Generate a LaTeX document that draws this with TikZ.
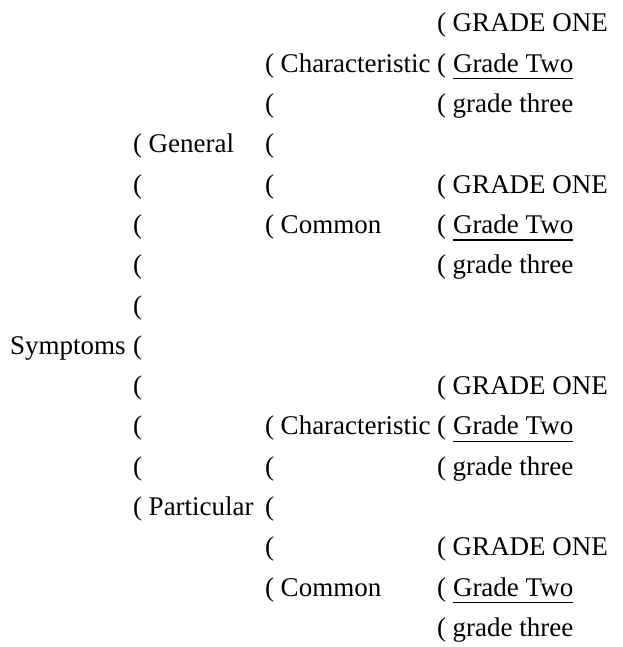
\documentclass[tikz,border=0pt]{standalone}
\usepackage{fontspec}
\setmainfont{Liberation Serif}
\begin{document}
\begin{tikzpicture}[x=1pt, y=1pt,
  lbl/.style={anchor=base west, inner sep=0pt, outer sep=0pt,
              font=\fontsize{27}{32}\selectfont},
  uline/.style={line width=1.2pt}]
\useasboundingbox (0,0) rectangle (622,647);

% column positions of the opening brackets
\def\pa{133}\def\pb{265}\def\pc{437}\def\tc{453}

% row 1
\node[lbl] (r1c) at (\pc,615) {( GRADE ONE};
% row 2
\node[lbl] (r2b) at (\pb,574.7) {( Characteristic};
\node[lbl] (r2c) at (\pc,574.7) {(};
\node[lbl] (r2t) at (\tc,574.7) {Grade Two};
% row 3
\node[lbl] (r3b) at (\pb,534.4) {(};
\node[lbl] (r3c) at (\pc,534.4) {( grade three};
% row 4
\node[lbl] (r4a) at (\pa,494.1) {( General};
\node[lbl] (r4b) at (\pb,494.1) {(};
% row 5
\node[lbl] (r5a) at (\pa,453.8) {(};
\node[lbl] (r5b) at (\pb,453.8) {(};
\node[lbl] (r5c) at (\pc,453.8) {( GRADE ONE};
% row 6
\node[lbl] (r6a) at (\pa,413.5) {(};
\node[lbl] (r6b) at (\pb,413.5) {( Common};
\node[lbl] (r6c) at (\pc,413.5) {(};
\node[lbl] (r6t) at (\tc,413.5) {Grade Two};
% row 7
\node[lbl] (r7a) at (\pa,373.2) {(};
\node[lbl] (r7c) at (\pc,373.2) {( grade three};
% row 8
\node[lbl] (r8a) at (\pa,332.9) {(};
% row 9
\node[lbl] (sym) at (10,292.6) {Symptoms};
\node[lbl] (r9a) at (\pa,292.6) {(};
% row 10
\node[lbl] (r10a) at (\pa,252.3) {(};
\node[lbl] (r10c) at (\pc,252.3) {( GRADE ONE};
% row 11
\node[lbl] (r11a) at (\pa,212) {(};
\node[lbl] (r11b) at (\pb,212) {( Characteristic};
\node[lbl] (r11c) at (\pc,212) {(};
\node[lbl] (r11t) at (\tc,212) {Grade Two};
% row 12
\node[lbl] (r12a) at (\pa,171.7) {(};
\node[lbl] (r12b) at (\pb,171.7) {(};
\node[lbl] (r12c) at (\pc,171.7) {( grade three};
% row 13
\node[lbl] (r13a) at (\pa,131.4) {( Particular};
\node[lbl] (r13b) at (\pb,131.4) {(};
% row 14
\node[lbl] (r14b) at (\pb,91.1) {(};
\node[lbl] (r14c) at (\pc,91.1) {( GRADE ONE};
% row 15
\node[lbl] (r15b) at (\pb,50.8) {( Common};
\node[lbl] (r15c) at (\pc,50.8) {(};
\node[lbl] (r15t) at (\tc,50.8) {Grade Two};
% row 16
\node[lbl] (r16c) at (\pc,10.5) {( grade three};

% underlines beneath "Grade Two"
\foreach \n in {r2t,r6t,r11t,r15t}
  \draw[uline] ([yshift=-6.5pt]\n.base west) -- ([yshift=-6.5pt]\n.base east);
\end{tikzpicture}
\end{document}
